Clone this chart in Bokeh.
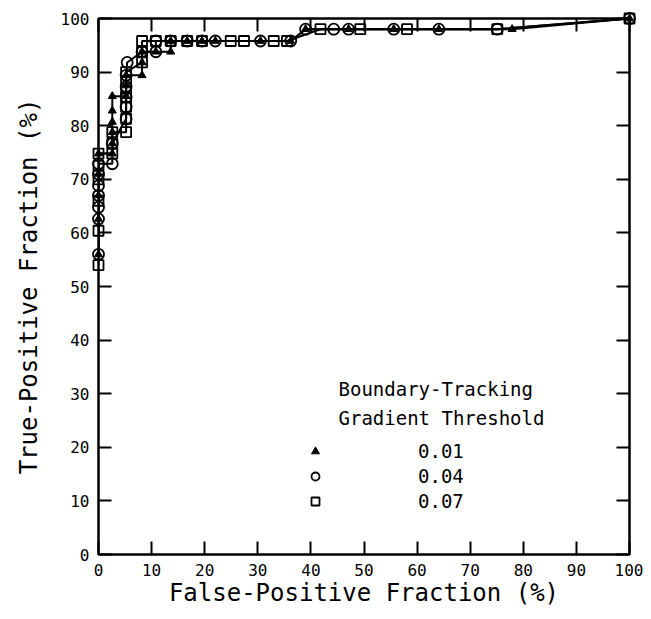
from bokeh.plotting import figure
from bokeh.models import (Range1d, LinearAxis, SingleIntervalTicker, Legend, LegendItem, Label)
from bokeh.embed import file_html
from bokeh.resources import INLINE

# ---- data ----
series_labels = ["0.01", "0.04", "0.07"]

tri_x = [0, 0, 0, 0, 0, 2.6, 2.6, 2.6, 2.6, 2.6, 2.6, 5.2, 5.2, 5.2, 8.2, 8.2, 8.2,
         10.8, 13.6, 13.6, 16.7, 19.5, 22.0, 30.5, 36.2, 39.0, 47.1, 55.6, 64.1, 77.9, 100]
tri_y = [56, 62.6, 67, 71, 74.8, 74.8, 76.7, 78.8, 80.7, 82.8, 85.5, 85.5, 87.5, 89.4, 89.4, 91.8, 93.8,
         93.8, 93.8, 95.8, 95.8, 95.8, 95.8, 95.8, 95.8, 98, 98, 98, 98, 98, 100]

circ_x = [0, 0, 0, 0, 0, 0, 0, 2.6, 2.6, 5.2, 5.2, 5.2, 5.2, 5.2, 5.4, 8.2, 10.8, 10.8,
          13.6, 16.7, 19.5, 22.0, 30.5, 36.2, 39.0, 44.3, 47.1, 55.6, 64.1, 75.1, 100]
circ_y = [56, 62.6, 64.8, 67, 68.8, 71, 72.9, 72.9, 76.7, 81.3, 83.5, 85.3, 87.3, 89.4, 91.8, 93.8, 93.8, 95.8,
          95.8, 95.8, 95.8, 95.8, 95.8, 95.8, 98, 98, 98, 98, 98, 98, 100]

sq_x = [0, 0, 0, 0, 0, 0, 2.6, 2.6, 2.6, 5.2, 5.2, 5.2, 5.2, 5.2, 5.2, 5.2, 8.2, 8.2, 8.2,
        10.8, 13.6, 16.7, 19.5, 24.9, 27.4, 33.0, 35.5, 41.8, 49.3, 58.1, 75.1, 100]
sq_y = [54, 60.4, 66, 70, 72.5, 74.8, 74.8, 76.7, 78.8, 78.8, 81.3, 83.5, 85.3, 86.9, 88.4, 90, 91.8, 93.8, 95.8,
        95.8, 95.8, 95.8, 95.8, 95.8, 95.8, 95.8, 95.8, 98, 98, 98, 98, 100]

legend_title = ["Boundary-Tracking", "Gradient Threshold"]
x_label = "False-Positive Fraction (%)"
y_label = "True-Positive Fraction (%)"

FONT = "DejaVu Sans Mono"

p = figure(width=643, height=611, output_backend="svg", toolbar_location=None,
           x_range=Range1d(0, 100), y_range=Range1d(0, 100),
           min_border_left=98, min_border_right=14, min_border_top=18, min_border_bottom=57)
p.xgrid.visible = False
p.ygrid.visible = False
p.background_fill_color = "white"
p.border_fill_color = "white"
p.outline_line_color = "black"
p.outline_line_width = 2

def style_axis(ax, labels=True):
    ax.ticker = SingleIntervalTicker(interval=10, num_minor_ticks=0)
    ax.axis_line_color = "black"
    ax.axis_line_width = 2
    ax.major_tick_line_color = "black"
    ax.major_tick_line_width = 2
    ax.major_tick_in = 13
    ax.major_tick_out = 0
    ax.minor_tick_line_color = None
    ax.major_label_text_font = FONT
    ax.major_label_text_font_size = "16px" if labels else "8px"
    ax.major_label_text_color = "black" if labels else None
    ax.axis_label_text_font = FONT
    ax.axis_label_text_font_size = "24px"
    ax.axis_label_text_font_style = "normal"
    ax.axis_label_text_color = "black"

style_axis(p.xaxis[0])
style_axis(p.yaxis[0])
p.xaxis[0].axis_label = x_label
p.yaxis[0].axis_label = y_label
p.xaxis[0].major_label_standoff = 9
p.yaxis[0].major_label_standoff = 9
p.xaxis[0].axis_label_standoff = 0
p.yaxis[0].axis_label_standoff = 15

top = LinearAxis(major_label_standoff=0)
right = LinearAxis(major_label_standoff=0)
style_axis(top, labels=False)
style_axis(right, labels=False)
p.add_layout(top, "above")
p.add_layout(right, "right")

lw = 2
p.line(tri_x, tri_y, line_color="black", line_width=lw)
p.line(circ_x, circ_y, line_color="black", line_width=lw)
p.line(sq_x, sq_y, line_color="black", line_width=lw)

r_tri = p.scatter(tri_x, tri_y, marker="triangle", size=8, fill_color="black", line_color="black",
                  line_width=1, level="overlay")
r_circ = p.scatter(circ_x, circ_y, marker="circle", size=11, fill_color=None, line_color="black",
                   line_width=1.8, level="overlay")
r_sq = p.scatter(sq_x, sq_y, marker="square", size=10, fill_color=None, line_color="black",
                 line_width=1.8, level="overlay")

legend = Legend(items=[LegendItem(label=series_labels[0], renderers=[r_tri]),
                       LegendItem(label=series_labels[1], renderers=[r_circ]),
                       LegendItem(label=series_labels[2], renderers=[r_sq])],
                location=(207, 42), padding=0, margin=0, spacing=3,
                glyph_width=20, glyph_height=20, label_height=20, label_standoff=93,
                label_text_font=FONT, label_text_font_size="19px", label_text_color="black",
                background_fill_alpha=0, border_line_color=None)
p.add_layout(legend, "center")

p.add_layout(Label(x=240, y=166, x_units="screen", y_units="screen", text=legend_title[0],
                   text_font=FONT, text_font_size="19px", text_color="black", text_baseline="middle"))
p.add_layout(Label(x=240, y=137, x_units="screen", y_units="screen", text=legend_title[1],
                   text_font=FONT, text_font_size="19px", text_color="black", text_baseline="middle"))

open("out.html", "w").write(file_html(p, INLINE))
